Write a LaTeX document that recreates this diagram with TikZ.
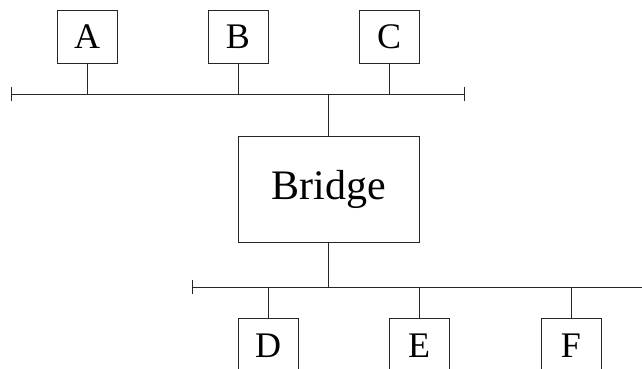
\documentclass[tikz,border=0pt]{standalone}
\usepackage{fontspec}
\setmainfont{Liberation Serif}
\usetikzlibrary{arrows.meta}
\tikzstyle{station} = [rectangle, minimum width=60pt, minimum height=53pt, inner sep=0pt, text centered, draw=black!85, line width=0.9pt, font=\fontsize{36}{36}\selectfont]
\tikzstyle{bridgebox} = [rectangle, minimum width=181pt, minimum height=106pt, inner sep=0pt, text centered, draw=black!85, line width=0.9pt, font=\fontsize{42}{42}\selectfont]
\tikzstyle{bus} = [line width=0.9pt, draw=black!85, {Bar[width=14pt]}-{Bar[width=14pt]}]
\tikzstyle{tap} = [line width=0.9pt, draw=black!85]

\begin{document}
\begin{tikzpicture}[x=1pt, y=-1pt]
    \useasboundingbox (0,0) rectangle (642,369);
    \clip (0,0) rectangle (642,369);
    % upper segment
    \node (a) [station] at (87,36.5) {A};
    \node (b) [station] at (238,36.5) {B};
    \node (c) [station] at (389,36.5) {C};
    \coordinate (upl) at (11,94);
    \coordinate (upr) at (465,94);
    \draw [bus] (upl) -- (upr);
    \draw [tap] (a.south) -- (a.south |- upl);
    \draw [tap] (b.south) -- (b.south |- upl);
    \draw [tap] (c.south) -- (c.south |- upl);

    % bridge
    \node (bridge) [bridgebox] at (328.5,189) {Bridge};
    \draw [tap] (bridge.north) -- (bridge.north |- upl);

    % lower segment
    \coordinate (lowl) at (192,287);
    \coordinate (lowr) at (660,287);
    \draw [bus] (lowl) -- (lowr);
    \draw [tap] (bridge.south) -- (bridge.south |- lowl);
    \node (d) [station, minimum height=56pt] at (268,346) {D};
    \node (e) [station, minimum height=56pt] at (419,346) {E};
    \node (f) [station, minimum height=56pt] at (571,346) {F};
    \draw [tap] (d.north) -- (d.north |- lowl);
    \draw [tap] (e.north) -- (e.north |- lowl);
    \draw [tap] (f.north) -- (f.north |- lowl);
\end{tikzpicture}
\end{document}
